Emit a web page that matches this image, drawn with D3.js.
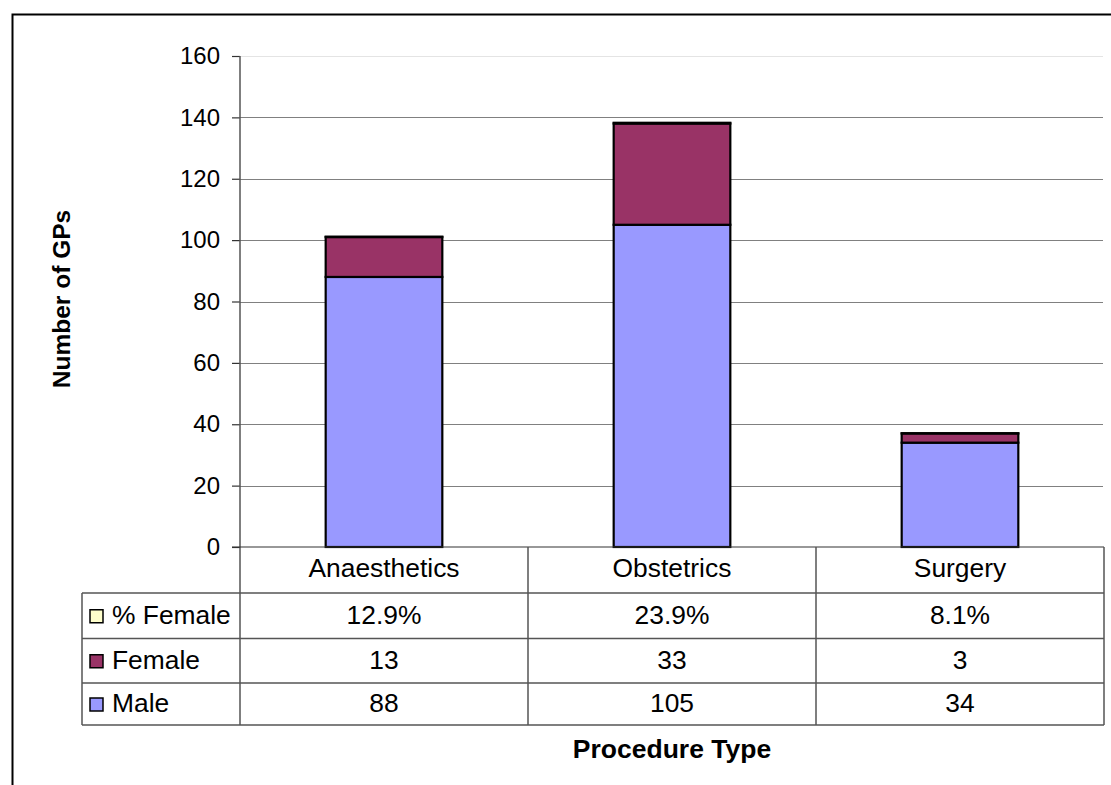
<!DOCTYPE html>
<html>
<head>
<meta charset="utf-8">
<title>Number of GPs by Procedure Type</title>
<script src="https://cdn.jsdelivr.net/npm/d3@7"></script>
<style>
  html, body { margin: 0; padding: 0; background: #fff; }
  svg { display: block; font-family: "Liberation Sans", Arial, sans-serif; }
</style>
</head>
<body>
<svg id="chart" width="1111" height="785"></svg>
<script>
// Chart data
const categories = ["Anaesthetics", "Obstetrics", "Surgery"];
const male = [88, 105, 34];
const female = [13, 33, 3];
const pctFemale = [0.129, 0.239, 0.081];
const yTicks = [0, 20, 40, 60, 80, 100, 120, 140, 160];

const seriesKeys = ["male", "female", "pct"];
const seriesNames = { male: "Male", female: "Female", pct: "% Female" };
const seriesColors = { male: "#9999FF", female: "#993366", pct: "#FFFFCC" };

const rows = categories.map((c, i) => ({
  category: c, male: male[i], female: female[i], pct: pctFemale[i]
}));

const svg = d3.select("#chart");

// Layout
const plot = { left: 240, right: 1104, top: 56, bottom: 547 };
const tableLeft = 82;
const rowEdges = [547, 593, 638.5, 683, 725]; // header, % Female, Female, Male
const tableFont = 26.4;

// Outer chart border (open to the right and bottom)
svg.append("rect")
  .attr("x", 12.5).attr("y", 14.5)
  .attr("width", 1300).attr("height", 1000)
  .attr("fill", "none").attr("stroke", "#000").attr("stroke-width", 2);

const x = d3.scaleBand().domain(categories).range([plot.left, plot.right]).padding(0);
const y = d3.scaleLinear().domain([0, 160]).range([plot.bottom, plot.top]);

// Gridlines
svg.append("g").selectAll("line").data(yTicks.filter(t => t > 0)).join("line")
  .attr("x1", plot.left).attr("x2", plot.right - 1)
  .attr("y1", d => Math.round(y(d)) + 0.5).attr("y2", d => Math.round(y(d)) + 0.5)
  .attr("stroke", d => d === 160 ? "#e4e4e4" : "#808080").attr("stroke-width", 1);

// Y axis
const yAxis = d3.axisLeft(y).tickValues(yTicks).tickSize(8).tickPadding(12).tickFormat(d3.format("d"));
const ya = svg.append("g").attr("transform", `translate(${plot.left},0)`).call(yAxis);
ya.select(".domain").remove();
ya.selectAll(".tick line").attr("stroke", "#333").attr("stroke-width", 1.2);
ya.selectAll(".tick text")
  .attr("font-size", 24).attr("fill", "#000")
  .attr("font-family", "'Liberation Sans', Arial, sans-serif");
svg.append("line")
  .attr("x1", plot.left).attr("x2", plot.left)
  .attr("y1", plot.top).attr("y2", rowEdges[4])
  .attr("stroke", "#555").attr("stroke-width", 1.5);

// Stacked bars
const stack = d3.stack().keys(seriesKeys)(rows);
const barW = x.bandwidth() * 0.405;
svg.append("g").selectAll("g").data(stack).join("g")
  .attr("fill", d => seriesColors[d.key])
  .selectAll("rect").data(d => d).join("rect")
  .attr("x", d => x(d.data.category) + (x.bandwidth() - barW) / 2)
  .attr("y", d => y(d[1]))
  .attr("width", barW)
  .attr("height", d => Math.max(0, y(d[0]) - y(d[1])))
  .attr("stroke", "#000").attr("stroke-width", 2.2);

// Baseline of the plot / top of data table
svg.append("line")
  .attr("x1", plot.left - 8).attr("x2", plot.right)
  .attr("y1", plot.bottom).attr("y2", plot.bottom)
  .attr("stroke", "#333").attr("stroke-width", 1.2);

// Data table grid
const table = svg.append("g").attr("stroke", "#555").attr("stroke-width", 1.5);
rowEdges.slice(1).forEach(ry => {
  table.append("line").attr("x1", tableLeft).attr("x2", plot.right).attr("y1", ry).attr("y2", ry);
});
categories.forEach(c => {
  const xr = x(c) + x.bandwidth();
  table.append("line").attr("x1", xr).attr("x2", xr).attr("y1", rowEdges[0]).attr("y2", rowEdges[4]);
});
table.append("line").attr("x1", tableLeft).attr("x2", tableLeft).attr("y1", rowEdges[1]).attr("y2", rowEdges[4]);

// Category header row
svg.append("g").selectAll("text").data(categories).join("text")
  .attr("x", d => x(d) + x.bandwidth() / 2)
  .attr("y", (rowEdges[0] + rowEdges[1]) / 2 + 7)
  .attr("text-anchor", "middle").attr("font-size", tableFont).attr("fill", "#000")
  .text(d => d);

// Value rows
const tableRows = [
  { key: "pct", values: pctFemale, fmt: d3.format(".1%") },
  { key: "female", values: female, fmt: d3.format("d") },
  { key: "male", values: male, fmt: d3.format("d") }
];
tableRows.forEach((r, i) => {
  const base = (rowEdges[i + 1] + rowEdges[i + 2]) / 2 + 8;
  svg.append("g").selectAll("text").data(r.values).join("text")
    .attr("x", (d, j) => x(categories[j]) + x.bandwidth() / 2)
    .attr("y", base)
    .attr("text-anchor", "middle").attr("font-size", tableFont).attr("fill", "#000")
    .text(d => r.fmt(d));
  // Legend key in the first column
  svg.append("rect")
    .attr("x", 90).attr("y", base - 14).attr("width", 13).attr("height", 13)
    .attr("fill", seriesColors[r.key]).attr("stroke", "#000").attr("stroke-width", 1.5);
  svg.append("text")
    .attr("x", 112).attr("y", base)
    .attr("font-size", tableFont).attr("fill", "#000")
    .text(seriesNames[r.key]);
});

// Axis titles
svg.append("text")
  .attr("transform", `translate(70,299) rotate(-90)`)
  .attr("text-anchor", "middle").attr("font-size", 24.5).attr("font-weight", "bold")
  .text("Number of GPs");
svg.append("text")
  .attr("x", 672).attr("y", 758)
  .attr("text-anchor", "middle").attr("font-size", 26.5).attr("font-weight", "bold")
  .text("Procedure Type");
</script>
</body>
</html>
